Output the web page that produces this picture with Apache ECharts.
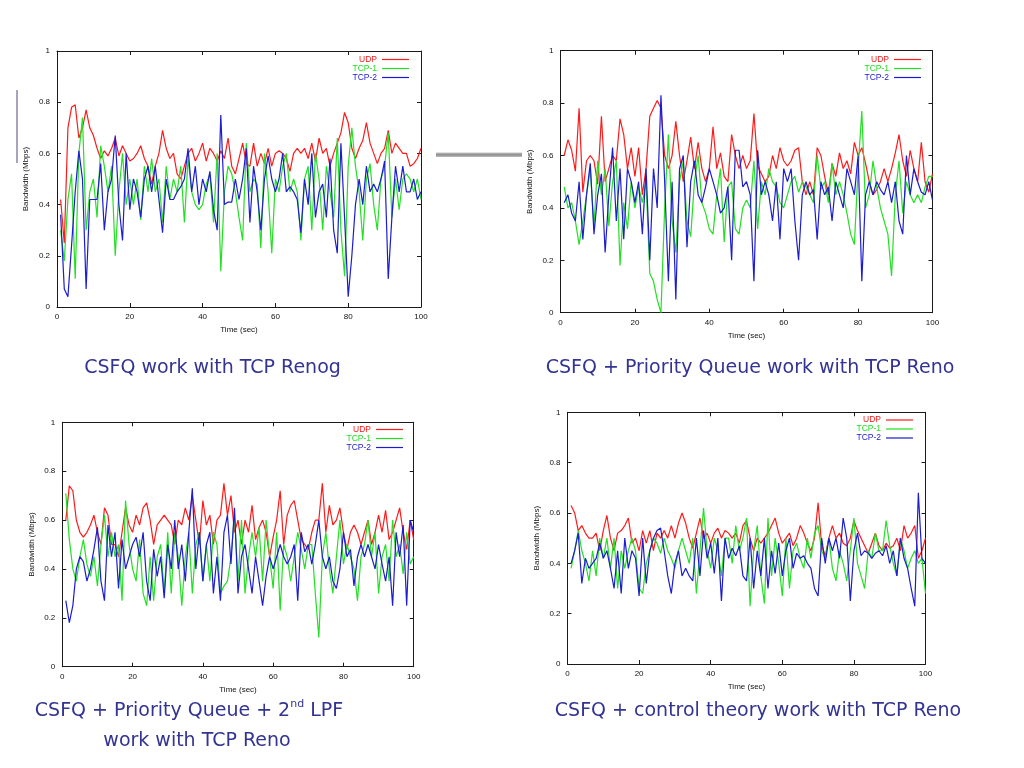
<!DOCTYPE html>
<html>
<head>
<meta charset="utf-8">
<script src="https://cdn.jsdelivr.net/npm/echarts@6/dist/echarts.min.js"></script>
<style>
  html, body { margin: 0; padding: 0; background: #fff; }
  #chart { width: 1024px; height: 768px; }
</style>
</head>
<body>
<div id="chart"></div>
<script>
// one sample per second, t = 1 .. 100
const seriesNames = ['UDP', 'TCP-1', 'TCP-2']
const xTicks = [0, 20, 40, 60, 80, 100]
const yTicks = [0, 0.2, 0.4, 0.6, 0.8, 1]

const captions = [
    'CSFQ work with TCP Renog',
    'CSFQ + Priority Queue work with TCP Reno',
    '{a|CSFQ + Priority Queue + 2}{s|nd}{a| LPF}',
    'work with TCP Reno',
    'CSFQ + control theory work with TCP Reno'
]

// top left: CSFQ
const c1Udp = [
    0.42, 0.25, 0.70, 0.78, 0.79, 0.66, 0.70, 0.77, 0.70, 0.67,
    0.62, 0.58, 0.61, 0.59, 0.62, 0.66, 0.59, 0.63, 0.60, 0.57,
    0.58, 0.60, 0.63, 0.58, 0.55, 0.48, 0.55, 0.60, 0.69, 0.62,
    0.58, 0.60, 0.52, 0.50, 0.55, 0.60, 0.62, 0.57, 0.60, 0.64,
    0.57, 0.62, 0.60, 0.57, 0.61, 0.58, 0.66, 0.55, 0.52, 0.58,
    0.64, 0.56, 0.55, 0.64, 0.55, 0.60, 0.56, 0.62, 0.55, 0.60,
    0.61, 0.60, 0.58, 0.53, 0.60, 0.62, 0.60, 0.62, 0.58, 0.64,
    0.57, 0.66, 0.60, 0.62, 0.55, 0.60, 0.64, 0.68, 0.76, 0.72,
    0.62, 0.58, 0.62, 0.65, 0.72, 0.64, 0.60, 0.56, 0.60, 0.62,
    0.69, 0.60, 0.64, 0.62, 0.60, 0.60, 0.55, 0.56, 0.58, 0.62
]
const c1Tcp1 = [
    0.30, 0.18, 0.42, 0.52, 0.11, 0.60, 0.74, 0.30, 0.45, 0.50,
    0.35, 0.63, 0.55, 0.45, 0.55, 0.20, 0.45, 0.60, 0.40, 0.50,
    0.40, 0.50, 0.34, 0.55, 0.45, 0.58, 0.45, 0.50, 0.33, 0.55,
    0.42, 0.50, 0.45, 0.55, 0.33, 0.58, 0.45, 0.40, 0.38, 0.40,
    0.48, 0.52, 0.33, 0.60, 0.14, 0.45, 0.55, 0.52, 0.45, 0.35,
    0.26, 0.64, 0.45, 0.50, 0.48, 0.23, 0.60, 0.45, 0.21, 0.50,
    0.45, 0.55, 0.60, 0.45, 0.50, 0.45, 0.26, 0.50, 0.55, 0.30,
    0.60, 0.50, 0.30, 0.55, 0.45, 0.35, 0.66, 0.30, 0.12, 0.55,
    0.70, 0.55, 0.45, 0.26, 0.50, 0.56, 0.40, 0.30, 0.50, 0.55,
    0.68, 0.35, 0.50, 0.38, 0.50, 0.52, 0.50, 0.45, 0.50, 0.42
]
const c1Tcp2 = [
    0.36, 0.07, 0.04, 0.24, 0.45, 0.61, 0.50, 0.07, 0.42, 0.42,
    0.42, 0.56, 0.30, 0.45, 0.50, 0.67, 0.40, 0.26, 0.60, 0.38,
    0.50, 0.45, 0.35, 0.50, 0.55, 0.45, 0.55, 0.42, 0.29, 0.50,
    0.42, 0.42, 0.45, 0.47, 0.50, 0.62, 0.45, 0.55, 0.40, 0.50,
    0.45, 0.53, 0.38, 0.30, 0.75, 0.40, 0.41, 0.41, 0.50, 0.42,
    0.50, 0.62, 0.33, 0.55, 0.45, 0.30, 0.50, 0.59, 0.50, 0.45,
    0.50, 0.60, 0.45, 0.47, 0.45, 0.42, 0.29, 0.50, 0.40, 0.60,
    0.35, 0.45, 0.48, 0.35, 0.58, 0.30, 0.21, 0.64, 0.35, 0.04,
    0.20, 0.40, 0.50, 0.40, 0.55, 0.45, 0.48, 0.45, 0.50, 0.57,
    0.11, 0.35, 0.55, 0.45, 0.55, 0.45, 0.45, 0.50, 0.42, 0.45
]

// top right: CSFQ + priority queue
const c2Udp = [
    0.60, 0.66, 0.62, 0.54, 0.78, 0.46, 0.58, 0.60, 0.58, 0.49,
    0.75, 0.50, 0.55, 0.60, 0.58, 0.74, 0.68, 0.55, 0.63, 0.52,
    0.63, 0.45, 0.55, 0.75, 0.78, 0.81, 0.78, 0.60, 0.55, 0.60,
    0.73, 0.60, 0.50, 0.58, 0.67, 0.55, 0.65, 0.55, 0.50, 0.55,
    0.71, 0.55, 0.61, 0.52, 0.50, 0.68, 0.60, 0.55, 0.60, 0.55,
    0.58, 0.76, 0.56, 0.53, 0.50, 0.52, 0.60, 0.55, 0.63, 0.58,
    0.56, 0.58, 0.62, 0.63, 0.50, 0.45, 0.50, 0.45, 0.63, 0.60,
    0.52, 0.45, 0.57, 0.52, 0.61, 0.55, 0.58, 0.53, 0.65, 0.60,
    0.63, 0.57, 0.50, 0.45, 0.47, 0.50, 0.55, 0.50, 0.55, 0.61,
    0.68, 0.58, 0.52, 0.62, 0.55, 0.50, 0.65, 0.50, 0.46, 0.53
]
const c2Tcp1 = [
    0.48, 0.40, 0.42, 0.35, 0.26, 0.35, 0.45, 0.55, 0.33, 0.58,
    0.45, 0.55, 0.33, 0.50, 0.58, 0.18, 0.42, 0.32, 0.50, 0.40,
    0.48, 0.42, 0.50, 0.15, 0.12, 0.05, 0.00, 0.40, 0.68, 0.35,
    0.23, 0.50, 0.58, 0.35, 0.29, 0.50, 0.60, 0.42, 0.38, 0.32,
    0.30, 0.45, 0.55, 0.27, 0.48, 0.50, 0.32, 0.30, 0.40, 0.43,
    0.40, 0.58, 0.32, 0.50, 0.45, 0.55, 0.50, 0.48, 0.42, 0.40,
    0.45, 0.50, 0.52, 0.46, 0.50, 0.48, 0.45, 0.42, 0.60, 0.47,
    0.50, 0.42, 0.57, 0.45, 0.50, 0.45, 0.38, 0.30, 0.26, 0.55,
    0.77, 0.40, 0.45, 0.58, 0.48, 0.40, 0.35, 0.30, 0.14, 0.45,
    0.58, 0.38, 0.50, 0.45, 0.42, 0.45, 0.42, 0.48, 0.52, 0.52
]
const c2Tcp2 = [
    0.42, 0.45, 0.38, 0.35, 0.50, 0.28, 0.45, 0.57, 0.30, 0.45,
    0.53, 0.23, 0.45, 0.63, 0.35, 0.55, 0.28, 0.55, 0.50, 0.42,
    0.50, 0.30, 0.55, 0.20, 0.55, 0.40, 0.83, 0.50, 0.12, 0.50,
    0.05, 0.55, 0.60, 0.25, 0.50, 0.58, 0.45, 0.42, 0.48, 0.55,
    0.50, 0.45, 0.38, 0.40, 0.48, 0.20, 0.62, 0.62, 0.48, 0.50,
    0.45, 0.12, 0.62, 0.45, 0.50, 0.45, 0.35, 0.50, 0.28, 0.55,
    0.50, 0.55, 0.35, 0.20, 0.45, 0.50, 0.45, 0.47, 0.28, 0.50,
    0.45, 0.48, 0.35, 0.50, 0.45, 0.40, 0.55, 0.50, 0.45, 0.60,
    0.12, 0.45, 0.50, 0.45, 0.50, 0.47, 0.45, 0.50, 0.42, 0.50,
    0.35, 0.30, 0.60, 0.45, 0.55, 0.50, 0.46, 0.45, 0.50, 0.43
]

// bottom left: CSFQ + priority queue + 2nd LPF
const c3Udp = [
    0.60, 0.74, 0.72, 0.60, 0.55, 0.53, 0.55, 0.58, 0.62, 0.55,
    0.50, 0.65, 0.62, 0.50, 0.50, 0.45, 0.55, 0.65, 0.58, 0.55,
    0.62, 0.58, 0.65, 0.67, 0.60, 0.50, 0.58, 0.60, 0.62, 0.60,
    0.58, 0.50, 0.60, 0.58, 0.65, 0.60, 0.70, 0.60, 0.50, 0.68,
    0.58, 0.62, 0.50, 0.60, 0.62, 0.75, 0.62, 0.70, 0.55, 0.60,
    0.50, 0.60, 0.55, 0.66, 0.52, 0.57, 0.60, 0.55, 0.45, 0.53,
    0.60, 0.72, 0.50, 0.62, 0.66, 0.68, 0.60, 0.52, 0.50, 0.48,
    0.55, 0.60, 0.60, 0.75, 0.55, 0.66, 0.58, 0.60, 0.65, 0.55,
    0.48, 0.55, 0.58, 0.55, 0.50, 0.55, 0.60, 0.50, 0.55, 0.62,
    0.55, 0.64, 0.52, 0.55, 0.60, 0.65, 0.55, 0.48, 0.60, 0.52
]
const c3Tcp1 = [
    0.71, 0.52, 0.40, 0.35, 0.45, 0.52, 0.42, 0.37, 0.45, 0.33,
    0.50, 0.62, 0.45, 0.55, 0.45, 0.50, 0.27, 0.68, 0.50, 0.40,
    0.35, 0.52, 0.30, 0.25, 0.45, 0.27, 0.45, 0.50, 0.30, 0.55,
    0.30, 0.55, 0.45, 0.25, 0.45, 0.55, 0.30, 0.50, 0.55, 0.35,
    0.50, 0.35, 0.55, 0.50, 0.30, 0.33, 0.35, 0.45, 0.62, 0.35,
    0.60, 0.30, 0.45, 0.55, 0.45, 0.57, 0.35, 0.60, 0.45, 0.32,
    0.55, 0.23, 0.50, 0.45, 0.35, 0.45, 0.55, 0.48, 0.40, 0.50,
    0.50, 0.30, 0.12, 0.45, 0.55, 0.40, 0.30, 0.45, 0.60, 0.42,
    0.50, 0.45, 0.40, 0.27, 0.45, 0.50, 0.60, 0.45, 0.55, 0.30,
    0.45, 0.50, 0.35, 0.60, 0.45, 0.50, 0.38, 0.55, 0.42, 0.45
]
const c3Tcp2 = [
    0.27, 0.18, 0.25, 0.40, 0.45, 0.43, 0.35, 0.40, 0.48, 0.57,
    0.35, 0.27, 0.58, 0.45, 0.55, 0.32, 0.52, 0.40, 0.45, 0.50,
    0.53, 0.45, 0.55, 0.35, 0.27, 0.48, 0.37, 0.45, 0.28, 0.50,
    0.40, 0.60, 0.40, 0.50, 0.35, 0.55, 0.73, 0.40, 0.55, 0.35,
    0.50, 0.55, 0.30, 0.45, 0.27, 0.55, 0.62, 0.42, 0.65, 0.30,
    0.45, 0.50, 0.40, 0.30, 0.45, 0.35, 0.25, 0.37, 0.45, 0.40,
    0.45, 0.50, 0.45, 0.42, 0.45, 0.50, 0.27, 0.55, 0.47, 0.50,
    0.42, 0.50, 0.60, 0.45, 0.40, 0.45, 0.35, 0.32, 0.40, 0.55,
    0.45, 0.48, 0.33, 0.45, 0.50, 0.45, 0.50, 0.45, 0.40, 0.50,
    0.42, 0.35, 0.45, 0.25, 0.55, 0.45, 0.58, 0.25, 0.60, 0.55
]

// bottom right: CSFQ + control theory
const c4Udp = [
    0.63, 0.60, 0.53, 0.55, 0.52, 0.50, 0.50, 0.52, 0.45, 0.53,
    0.59, 0.50, 0.45, 0.52, 0.53, 0.55, 0.58, 0.48, 0.50, 0.45,
    0.53, 0.48, 0.53, 0.45, 0.52, 0.50, 0.53, 0.50, 0.55, 0.50,
    0.56, 0.60, 0.56, 0.50, 0.46, 0.52, 0.58, 0.50, 0.52, 0.48,
    0.52, 0.54, 0.50, 0.53, 0.52, 0.50, 0.52, 0.48, 0.55, 0.57,
    0.50, 0.45, 0.50, 0.48, 0.50, 0.52, 0.55, 0.58, 0.52, 0.48,
    0.50, 0.52, 0.47, 0.50, 0.55, 0.52, 0.48, 0.45, 0.50, 0.64,
    0.47, 0.43, 0.50, 0.55, 0.50, 0.52, 0.48, 0.47, 0.50, 0.57,
    0.53, 0.50, 0.47, 0.44, 0.48, 0.52, 0.47, 0.45, 0.48, 0.46,
    0.47, 0.50, 0.45, 0.55, 0.50, 0.52, 0.55, 0.42, 0.45, 0.50
]
const c4Tcp1 = [
    0.38, 0.45, 0.53, 0.45, 0.40, 0.33, 0.45, 0.35, 0.50, 0.42,
    0.50, 0.38, 0.50, 0.30, 0.45, 0.38, 0.45, 0.50, 0.45, 0.30,
    0.28, 0.40, 0.45, 0.50, 0.48, 0.44, 0.50, 0.45, 0.42, 0.38,
    0.45, 0.50, 0.45, 0.40, 0.50, 0.28, 0.45, 0.62, 0.45, 0.38,
    0.50, 0.45, 0.35, 0.50, 0.50, 0.40, 0.55, 0.45, 0.50, 0.58,
    0.23, 0.45, 0.55, 0.35, 0.24, 0.58, 0.35, 0.50, 0.40, 0.27,
    0.50, 0.30, 0.45, 0.48, 0.42, 0.38, 0.50, 0.42, 0.52, 0.55,
    0.45, 0.42, 0.50, 0.38, 0.33, 0.45, 0.40, 0.33, 0.45, 0.58,
    0.40, 0.35, 0.30, 0.45, 0.42, 0.52, 0.45, 0.45, 0.57, 0.47,
    0.40, 0.35, 0.50, 0.45, 0.38, 0.42, 0.45, 0.40, 0.42, 0.28
]
const c4Tcp2 = [
    0.40, 0.45, 0.52, 0.32, 0.42, 0.38, 0.40, 0.42, 0.48, 0.42,
    0.45, 0.38, 0.30, 0.45, 0.28, 0.50, 0.38, 0.45, 0.42, 0.27,
    0.50, 0.32, 0.45, 0.50, 0.53, 0.54, 0.45, 0.35, 0.28, 0.40,
    0.45, 0.35, 0.38, 0.35, 0.33, 0.50, 0.35, 0.53, 0.42, 0.48,
    0.36, 0.50, 0.25, 0.50, 0.42, 0.46, 0.43, 0.47, 0.35, 0.33,
    0.50, 0.30, 0.45, 0.35, 0.50, 0.30, 0.45, 0.36, 0.48, 0.35,
    0.45, 0.50, 0.38, 0.44, 0.42, 0.43, 0.40, 0.38, 0.30, 0.27,
    0.50, 0.40, 0.50, 0.45, 0.50, 0.42, 0.58, 0.50, 0.25, 0.45,
    0.52, 0.43, 0.45, 0.44, 0.42, 0.44, 0.45, 0.43, 0.47, 0.40,
    0.45, 0.35, 0.50, 0.42, 0.38, 0.30, 0.23, 0.68, 0.42, 0.40
]

const panelData = [
    [c1Udp, c1Tcp1, c1Tcp2],
    [c2Udp, c2Tcp1, c2Tcp2],
    [c3Udp, c3Tcp1, c3Tcp2],
    [c4Udp, c4Tcp1, c4Tcp2]
]

// layout of the four gnuplot frames (pixels)
const frames = [
    { left: 57, top: 51, width: 364, height: 256, legendRight: 615, legendTop: 55 },
    { left: 560.5, top: 50.7, width: 372, height: 262, legendRight: 103, legendTop: 55 },
    { left: 62.3, top: 422.3, width: 351.4, height: 244.4, legendRight: 621, legendTop: 425 },
    { left: 567.5, top: 412.3, width: 358, height: 251.7, legendRight: 111, legendTop: 415.5 }
]

const colors = ['#ff1a1a', '#22e022', '#1c1cd0']
const axisColor = '#1a1a1a'
const tickFont = '"Liberation Sans", Arial, sans-serif'
const captionFont = '"DejaVu Sans", Verdana, sans-serif'
const captionColor = '#333393'

const chart = echarts.init(document.getElementById('chart'), null, { renderer: 'canvas' })

const grid = []
const xAxis = []
const yAxis = []
const series = []
const legend = []

frames.forEach((f, i) => {
    grid.push({
        left: f.left, top: f.top, width: f.width, height: f.height,
        containLabel: false, outerBoundsMode: 'none'
    })

    const tick = { show: true, inside: true, length: 4, lineStyle: { color: axisColor, width: 1 } }
    const line = { show: true, onZero: false, lineStyle: { color: axisColor, width: 1 } }

    xAxis.push({
        gridIndex: i, type: 'value', position: 'bottom',
        min: xTicks[0], max: xTicks[xTicks.length - 1], interval: xTicks[1] - xTicks[0],
        axisLine: line, axisTick: tick, splitLine: { show: false },
        axisLabel: { fontSize: 8, color: '#111', margin: 6, fontFamily: tickFont },
        name: 'Time (sec)', nameLocation: 'middle', nameGap: 19,
        nameTextStyle: { fontSize: 8, color: '#111', fontFamily: tickFont }
    })
    xAxis.push({
        gridIndex: i, type: 'value', position: 'top',
        min: xTicks[0], max: xTicks[xTicks.length - 1], interval: xTicks[1] - xTicks[0],
        axisLine: line, axisTick: tick, splitLine: { show: false },
        axisLabel: { show: false }
    })
    yAxis.push({
        gridIndex: i, type: 'value', position: 'left',
        min: yTicks[0], max: yTicks[yTicks.length - 1], interval: yTicks[1] - yTicks[0],
        axisLine: line, axisTick: tick, splitLine: { show: false },
        axisLabel: { fontSize: 8, color: '#111', margin: 7, fontFamily: tickFont },
        name: 'Bandwidth (Mbps)', nameLocation: 'middle', nameGap: 27,
        nameTextStyle: { fontSize: 8, color: '#111', fontFamily: tickFont }
    })
    yAxis.push({
        gridIndex: i, type: 'value', position: 'right',
        min: yTicks[0], max: yTicks[yTicks.length - 1], interval: yTicks[1] - yTicks[0],
        axisLine: line, axisTick: tick, splitLine: { show: false },
        axisLabel: { show: false }
    })

    panelData[i].forEach((values, k) => {
        series.push({
            name: seriesNames[k],
            type: 'line',
            xAxisIndex: i * 2,
            yAxisIndex: i * 2,
            data: values.map((v, j) => [j + 1, v]),
            showSymbol: false,
            symbol: 'none',
            silent: true,
            animation: false,
            lineStyle: { width: 1.2, color: colors[k] },
            itemStyle: { color: colors[k] }
        })
    })

    legend.push({
        orient: 'vertical', align: 'right',
        right: f.legendRight, top: f.legendTop,
        padding: 0, itemGap: 0, itemWidth: 27, itemHeight: 1.2,
        icon: 'rect', selectedMode: false,
        textStyle: { fontSize: 8.5, lineHeight: 9, fontFamily: tickFont },
        data: seriesNames.map((n, k) => ({ name: n, textStyle: { color: colors[k] } }))
    })
})

const captionText = (text, x, y) => ({
    type: 'text', x, y, silent: true,
    style: {
        text, x: 0, y: 0, align: 'center', verticalAlign: 'middle',
        fill: captionColor, font: '19px ' + captionFont,
        rich: {
            a: { fontSize: 19, lineHeight: 24, fontFamily: captionFont, fill: captionColor, color: captionColor },
            s: { fontSize: 11, lineHeight: 12, verticalAlign: 'top', fontFamily: captionFont, fill: captionColor, color: captionColor }
        }
    }
})

const graphic = [
    // grey connector between the two upper plots
    {
        type: 'rect', silent: true,
        shape: { x: 436, y: 152.5, width: 86, height: 4.5 },
        style: {
            fill: new echarts.graphic.LinearGradient(0, 0, 0, 1, [
                { offset: 0, color: '#c4c4c4' },
                { offset: 0.5, color: '#8e8e8e' },
                { offset: 1, color: '#bdbdbd' }
            ])
        }
    },
    // stray bar at the left margin
    {
        type: 'line', silent: true,
        shape: { x1: 17, y1: 90, x2: 17, y2: 163 },
        style: { stroke: '#4a4a78', lineWidth: 1 }
    },
    captionText(captions[0], 212.5, 368),
    captionText(captions[1], 750, 368),
    captionText(captions[2], 189, 711),
    captionText(captions[3], 197, 741),
    captionText(captions[4], 758, 711)
]

chart.setOption({
    backgroundColor: '#ffffff',
    animation: false,
    color: colors,
    grid,
    xAxis,
    yAxis,
    legend,
    series,
    graphic
})
</script>
</body>
</html>
